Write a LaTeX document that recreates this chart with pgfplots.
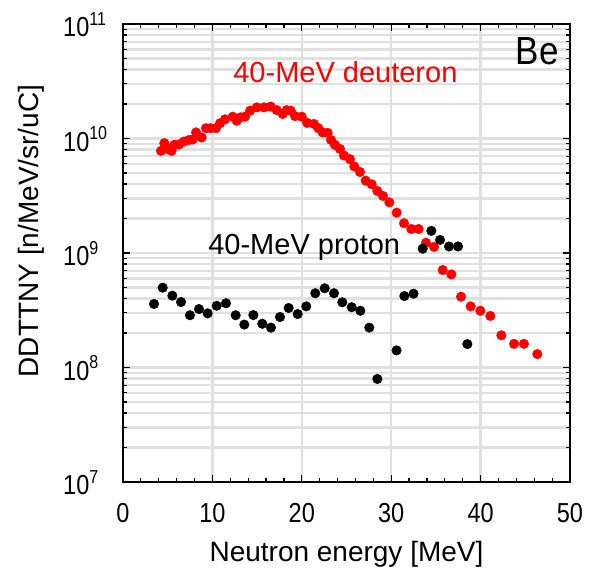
\documentclass[border=0pt]{standalone}
\usepackage{fontspec}
\setmainfont{Liberation Sans}
\usepackage{graphicx}
\usepackage{pgfplots}
\pgfplotsset{compat=1.18}
\definecolor{gridgray}{RGB}{224,224,224}
\begin{document}
\begin{tikzpicture}
\path[use as bounding box] (0,0) rectangle (592pt,574pt);
\begin{axis}[
  at={(123pt,92pt)}, anchor=south west,
  scale only axis, width=447pt, height=458pt,
  xmin=0, xmax=50, ymin=1e7, ymax=1e11,
  ymode=log, log basis y=10,
  xtick={0,10,20,30,40,50}, minor x tick num=4,
  xticklabels={}, yticklabels={},
  xmajorgrids, ymajorgrids, yminorgrids,
  grid style={draw=gridgray, line width=2.4pt},
  minor grid style={draw=gridgray, line width=2.4pt},
  axis line style={line width=1.6pt},
  tick style={line width=1.2pt, black},
  major tick length=7pt, minor tick length=4pt,
  tick align=inside,
  xlabel={Neutron energy [MeV]},
  ylabel={DDTTNY [n/MeV/sr/uC]},
  label style={font=\fontsize{28}{28}\selectfont},
  xlabel style={at={(axis description cs:0.5,-0.158)}, anchor=center},
  ylabel style={at={(axis description cs:-0.205,0.548)}, anchor=center, rotate=0},
  clip=false,
]
\addplot[only marks, mark=*, mark size=4.8pt, color=red, mark options={draw=red, fill=red}] coordinates {
(4.25,7.8e9) (4.62,9.1e9) (4.96,8.1e9) (5.44,7.8e9) (5.74,8.8e9) (6.30,8.9e9)
(6.82,9.4e9) (7.38,9.7e9) (7.79,9.8e9) (8.17,1.13e10) (8.80,1.02e10) (9.28,1.23e10)
(9.80,1.23e10) (10.40,1.23e10) (10.85,1.36e10) (11.41,1.47e10) (12.27,1.55e10)
(12.72,1.43e10) (13.17,1.53e10) (13.65,1.55e10) (14.21,1.75e10) (14.96,1.87e10)
(15.77,1.87e10) (16.52,1.90e10) (17.19,1.77e10) (17.86,1.64e10) (18.31,1.77e10)
(18.76,1.75e10) (19.24,1.57e10) (19.99,1.55e10) (20.60,1.37e10) (21.36,1.34e10)
(21.85,1.23e10) (22.33,1.13e10) (22.90,1.12e10) (23.27,9.7e9) (23.71,8.8e9)
(24.27,8.1e9) (24.72,7.1e9) (25.39,6.6e9) (25.87,5.7e9) (26.51,5.1e9) (27.15,4.28e9)
(27.82,3.98e9) (28.45,3.48e9) (29.08,3.15e9) (29.79,2.77e9) (30.61,2.25e9)
(31.43,1.82e9) (32.25,1.62e9) (33.07,1.62e9) (33.89,1.23e9) (34.79,1.13e9)
(35.76,7.1e8) (36.73,6.5e8) (37.81,4.15e8) (38.89,3.42e8) (39.97,3.13e8)
(41.09,2.82e8) (42.32,1.91e8) (43.74,1.61e8) (44.85,1.61e8) (46.34,1.31e8)
};
\addplot[only marks, mark=*, mark size=4.8pt, color=black, mark options={draw=black, fill=black}] coordinates {
(3.47,3.59e8) (4.44,4.98e8) (5.52,4.24e8) (6.49,3.73e8) (7.49,2.86e8) (8.50,3.24e8)
(9.47,2.97e8) (10.48,3.46e8) (11.52,3.64e8) (12.60,2.86e8) (13.57,2.37e8) (14.58,2.87e8)
(15.58,2.41e8) (16.55,2.23e8) (17.56,2.76e8) (18.53,3.31e8) (19.54,2.93e8) (20.50,3.42e8)
(21.51,4.45e8) (22.56,4.92e8) (23.60,4.45e8) (24.53,3.71e8) (25.58,3.36e8) (26.55,3.13e8)
(27.55,2.23e8) (28.45,7.94e7) (30.60,1.41e8) (31.47,4.21e8) (32.50,4.41e8) (33.52,1.09e9)
(34.49,1.56e9) (35.46,1.30e9) (36.47,1.14e9) (37.47,1.14e9) (38.52,1.60e8)
};
\pgfplotsinvokeforeach{0,10,20,30,40,50}{
  \node[anchor=north, inner sep=0pt, yshift=-21pt, font=\fontsize{23.5}{26}\selectfont] at (axis cs:#1,1e7) {\scalebox{1}[1.17]{#1}};
}
\pgfplotsinvokeforeach{7,8,9,10,11}{
  \node[anchor=base west, inner sep=0pt, xshift=-60pt, yshift=-13pt, font=\fontsize{23.5}{26}\selectfont] at (axis cs:0,1e#1) {\scalebox{1}[1.17]{10\raisebox{0.42em}{\fontsize{16}{16}\selectfont #1}}};
}
\node[anchor=base east, inner sep=0pt, font=\fontsize{35}{35}\selectfont] at (rel axis cs:0.975,0.911) {\scalebox{1}[1.12]{Be}};
\node[anchor=base west, text=red, font=\fontsize{29}{29}\selectfont] at (rel axis cs:0.239,0.873) {40-MeV deuteron};
\node[anchor=base west, font=\fontsize{29}{29}\selectfont] at (rel axis cs:0.183,0.496) {40-MeV proton};
\end{axis}
\end{tikzpicture}
\end{document}
